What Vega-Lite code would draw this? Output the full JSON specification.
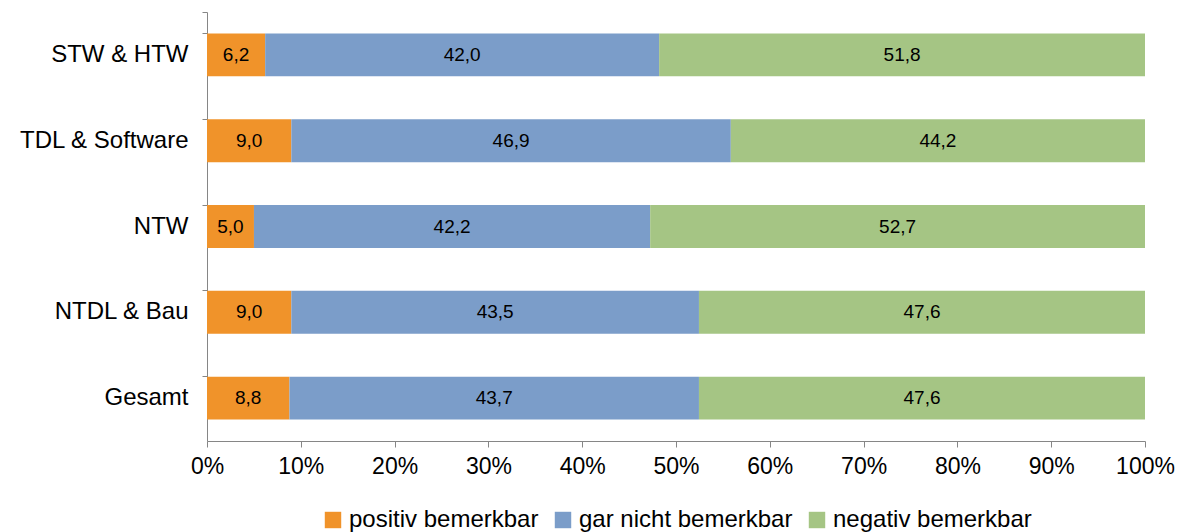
{
  "$schema": "https://vega.github.io/schema/vega-lite/v6.json",
  "width": 938,
  "height": 429,
  "autosize": {"type": "none"},
  "padding": {"left": 207, "top": 12, "right": 39, "bottom": 91},
  "config": {
    "font": "Liberation Sans",
    "view": {"stroke": null},
    "locale": {"number": {"decimal": ",", "thousands": ".", "grouping": [3], "currency": ["", " €"]}},
    "axis": {"domainColor": "#868686", "tickColor": "#868686", "labelColor": "#000000", "labelFont": "Liberation Sans", "labelFontSize": 23, "grid": false, "title": null},
    "legend": {"layout": {"bottom": {"anchor": "middle"}}}
  },
  "data": {
    "values": [
      {"gruppe": "STW & HTW", "kategorie": "positiv bemerkbar", "rang": 1, "wert": 6.2},
      {"gruppe": "STW & HTW", "kategorie": "gar nicht bemerkbar", "rang": 2, "wert": 42.0},
      {"gruppe": "STW & HTW", "kategorie": "negativ bemerkbar", "rang": 3, "wert": 51.8},
      {"gruppe": "TDL & Software", "kategorie": "positiv bemerkbar", "rang": 1, "wert": 9.0},
      {"gruppe": "TDL & Software", "kategorie": "gar nicht bemerkbar", "rang": 2, "wert": 46.9},
      {"gruppe": "TDL & Software", "kategorie": "negativ bemerkbar", "rang": 3, "wert": 44.2},
      {"gruppe": "NTW", "kategorie": "positiv bemerkbar", "rang": 1, "wert": 5.0},
      {"gruppe": "NTW", "kategorie": "gar nicht bemerkbar", "rang": 2, "wert": 42.2},
      {"gruppe": "NTW", "kategorie": "negativ bemerkbar", "rang": 3, "wert": 52.7},
      {"gruppe": "NTDL & Bau", "kategorie": "positiv bemerkbar", "rang": 1, "wert": 9.0},
      {"gruppe": "NTDL & Bau", "kategorie": "gar nicht bemerkbar", "rang": 2, "wert": 43.5},
      {"gruppe": "NTDL & Bau", "kategorie": "negativ bemerkbar", "rang": 3, "wert": 47.6},
      {"gruppe": "Gesamt", "kategorie": "positiv bemerkbar", "rang": 1, "wert": 8.8},
      {"gruppe": "Gesamt", "kategorie": "gar nicht bemerkbar", "rang": 2, "wert": 43.7},
      {"gruppe": "Gesamt", "kategorie": "negativ bemerkbar", "rang": 3, "wert": 47.6}
    ]
  },
  "encoding": {
    "y": {
      "field": "gruppe",
      "type": "nominal",
      "sort": ["STW & HTW", "TDL & Software", "NTW", "NTDL & Bau", "Gesamt"],
      "scale": {"paddingInner": 0.5, "paddingOuter": 0.25},
      "axis": {"bandPosition": 0, "tickExtra": true, "tickSize": 5, "labelPadding": 14, "labelFontSize": 24, "domain": true}
    },
    "x": {
      "field": "wert",
      "type": "quantitative",
      "stack": "normalize",
      "scale": {"domain": [0, 1], "nice": false},
      "axis": {"format": ".0%", "values": [0, 0.1, 0.2, 0.3, 0.4, 0.5, 0.6, 0.7, 0.8, 0.9, 1], "tickSize": 6, "labelPadding": 8, "labelFlush": false}
    },
    "order": {"field": "rang", "type": "quantitative", "sort": "ascending"}
  },
  "layer": [
    {
      "mark": {"type": "bar"},
      "encoding": {
        "color": {
          "field": "kategorie",
          "type": "nominal",
          "sort": ["positiv bemerkbar", "gar nicht bemerkbar", "negativ bemerkbar"],
          "scale": {"domain": ["positiv bemerkbar", "gar nicht bemerkbar", "negativ bemerkbar"], "range": ["#F0932A", "#7B9DC9", "#A5C584"]},
          "legend": {"orient": "bottom", "direction": "horizontal", "title": null, "symbolType": "square", "symbolSize": 270, "symbolStrokeWidth": 0, "labelFontSize": 24, "labelFont": "Liberation Sans", "labelColor": "#000000", "labelLimit": 500, "columnPadding": 12, "labelOffset": 4, "offset": 30}
        }
      }
    },
    {
      "mark": {"type": "text", "fontSize": 19, "color": "#000000", "font": "Liberation Sans"},
      "encoding": {
        "x": {"field": "wert", "type": "quantitative", "stack": "normalize", "bandPosition": 0.5},
        "detail": {"field": "kategorie"},
        "text": {"field": "wert", "type": "quantitative", "format": ".1f"}
      }
    }
  ]
}
